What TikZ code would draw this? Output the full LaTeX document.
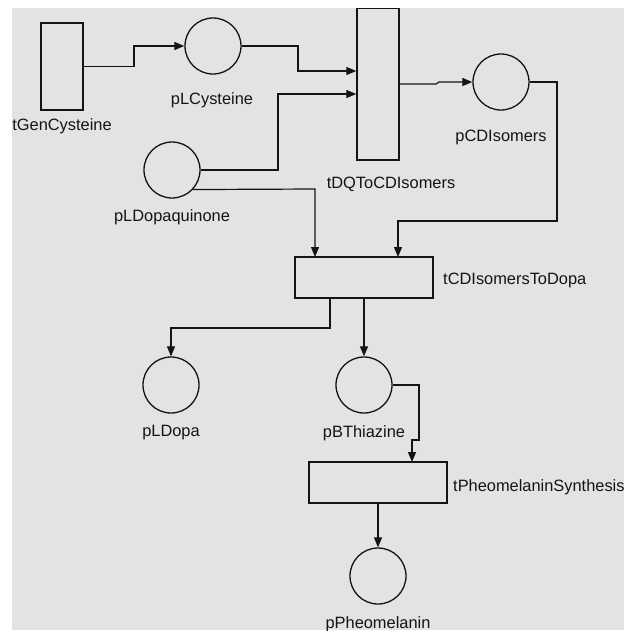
\documentclass[tikz,border=0pt]{standalone}
\usepackage{fontspec}
\setmainfont{Liberation Sans}
\usetikzlibrary{arrows.meta,calc}
\definecolor{bggray}{RGB}{227,227,227}
\definecolor{ink}{RGB}{20,20,20}
\begin{document}
\begin{tikzpicture}[x=1pt,y=-1pt,
  every node/.style={font=\fontsize{16.4}{19}\selectfont, inner sep=0pt, text=ink},
  trans/.style={draw=ink, line width=1.4pt, rectangle, fill=bggray},
  place/.style={draw=ink, line width=1.3pt, circle, minimum size=56pt},
  lbl/.style={anchor=center},
  arr/.style={draw=ink, line width=1.2pt, -{Triangle[length=10pt,width=8pt]}}
]
\useasboundingbox (0,0) rectangle (634,630);
\fill[bggray] (12,8) rectangle (624,630);
\begin{scope}
\clip (12,8) rectangle (624,630);
% transitions
\node[trans, minimum width=42pt, minimum height=87pt] (tGen) at (62,66.5) {};
\node[trans, minimum width=42pt, minimum height=152pt] (tDQ) at (378,84) {};
\node[trans, minimum width=138pt, minimum height=41pt] (tCDI) at (364,277.5) {};
\node[trans, minimum width=138pt, minimum height=41pt] (tPheo) at (378,482.5) {};
% places
\node[place] (pLC) at (213,46) {};
\node[place] (pLDq) at (172,170) {};
\node[place] (pCD) at (501,82) {};
\node[place] (pLD) at (171,385) {};
\node[place] (pBT) at (364,385) {};
\node[place] (pPh) at (378,576) {};
% labels
\node[lbl] (ltGen) at (62,126) {tGenCysteine};
\node[lbl] (lpLC) at (212,100) {pLCysteine};
\node[lbl] (ltDQ) at (391,184) {tDQToCDIsomers};
\node[lbl] (lpLDq) at (172,217) {pLDopaquinone};
\node[lbl] (lpCD) at (501,137) {pCDIsomers};
\node[anchor=west] (ltCDI) at (443,280) {tCDIsomersToDopa};
\node[lbl] (lpLD) at (171,433) {pLDopa};
\node[lbl] (lpBT) at (364,433) {pBThiazine};
\node[anchor=west] (ltPheo) at (453,487) {tPheomelaninSynthesis};
\node[lbl] (lpPh) at (378,624) {pPheomelanin};
% helper coordinates
\coordinate (a1) at (134,66.5);
\coordinate (a2) at (134,46);
\coordinate (b1) at (298,46);
\coordinate (b2) at (298,71);
\coordinate (b3) at ($(tDQ.west)+(0,-13)$);
\coordinate (c1) at (278,170);
\coordinate (c2) at (278,94);
\coordinate (c3) at ($(tDQ.west)+(0,10)$);
\coordinate (d1) at (315,189);
\coordinate (d2) at (315,257);
\coordinate (e1) at (436,84);
\coordinate (e2) at (439,82);
\coordinate (f1) at (557,82);
\coordinate (f2) at (557,221);
\coordinate (f3) at (398,221);
\coordinate (f4) at (398,257);
\coordinate (g0) at (330,298);
\coordinate (g1) at (330,328);
\coordinate (g2) at (171,328);
\coordinate (h1) at (419,385);
\coordinate (h2) at (419,440);
\coordinate (h3) at (412,440);
\coordinate (h4) at (412,462);
% connectors
\draw[arr] (tGen.east |- a1) -- (a1) -- (a2) -- (pLC.west);
\draw[arr] (pLC.east) -- (b1) -- (b2) -- (b3);
\draw[arr] (pLDq.east) -- (c1) -- (c2) -- (c3);
\draw[arr] (pLDq.-43) -- (d1) -- (d2);
\draw[arr] (tDQ.east) -- (e1) -- (e2) -- (pCD.west);
\draw[arr] (pCD.east) -- (f1) -- (f2) -- (f3) -- (f4);
\draw[arr] (g0) -- (g1) -- (g2) -- (pLD.north);
\draw[arr] (tCDI.south) -- (pBT.north);
\draw[arr] (pBT.east) -- (h1) -- (h2) -- (h3) -- (h4);
\draw[arr] (tPheo.south) -- (pPh.north);
\end{scope}
\end{tikzpicture}
\end{document}
